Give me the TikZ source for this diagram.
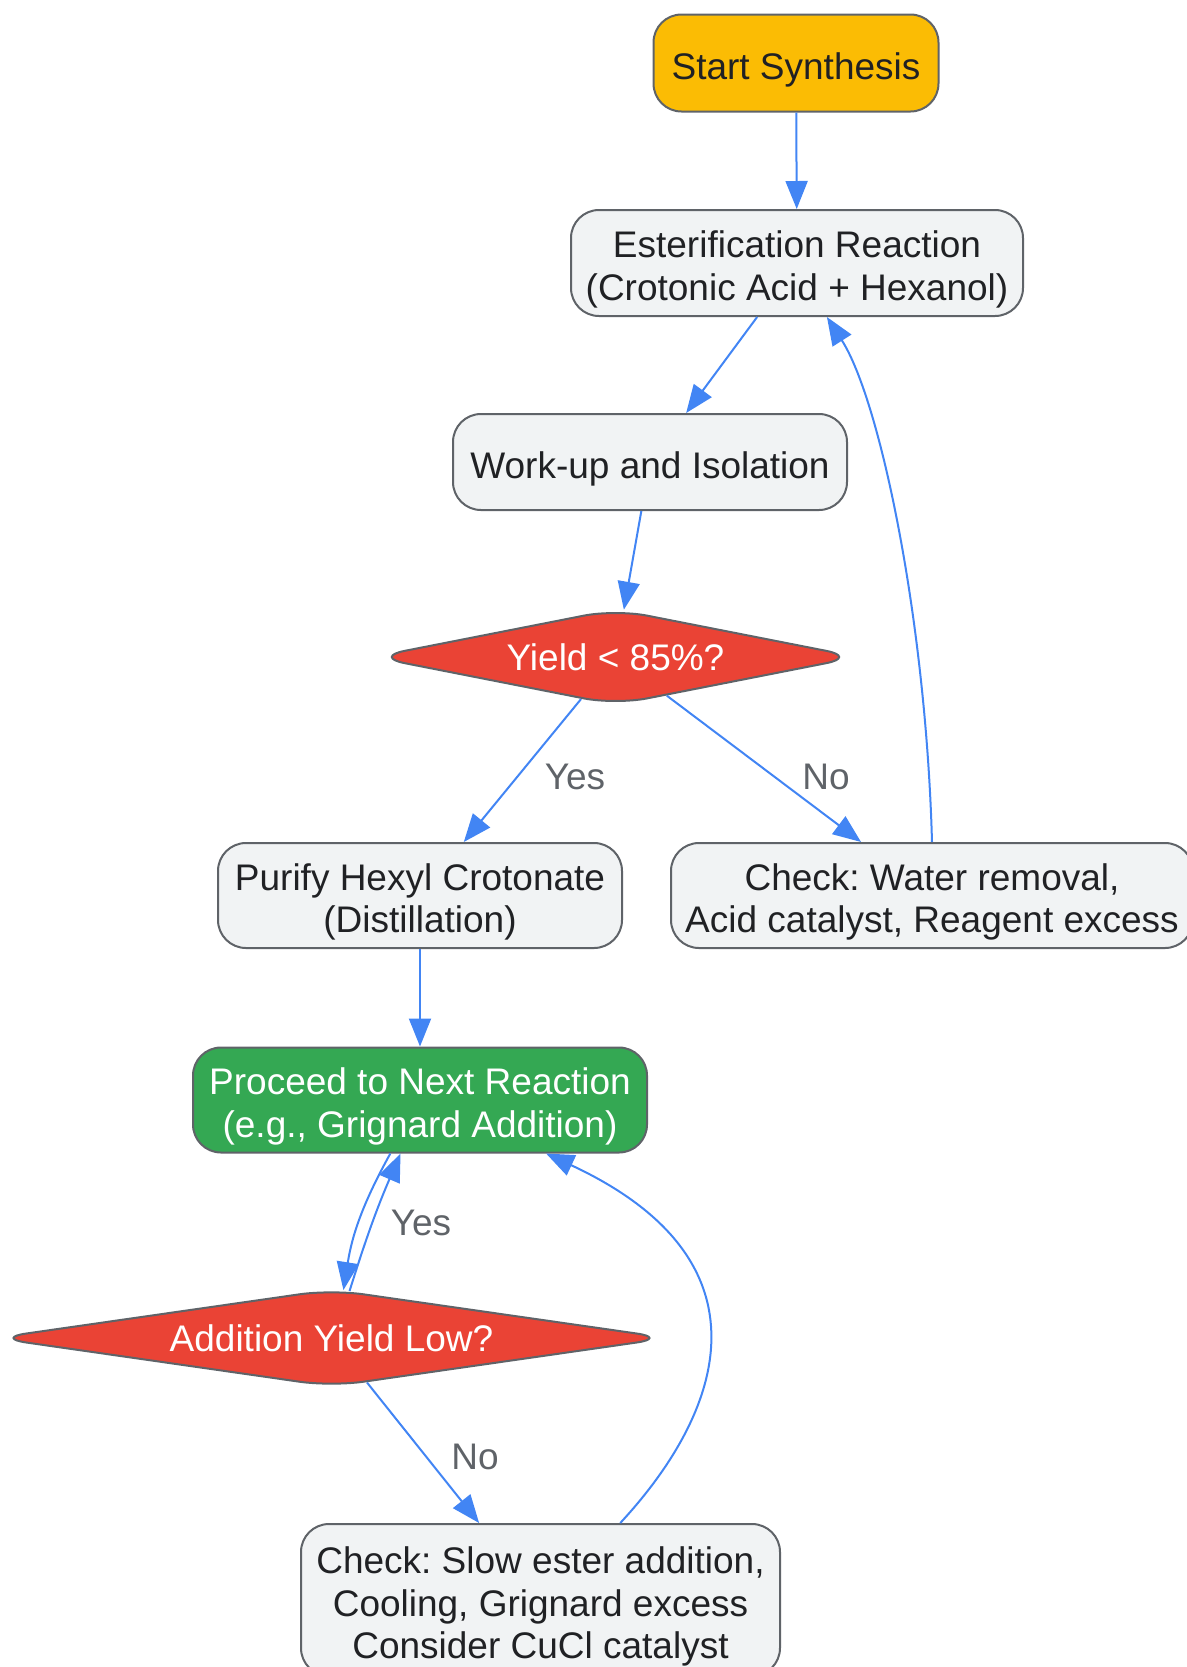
\documentclass[tikz,border=0pt]{standalone}
\usepackage{fontspec}
\setmainfont{Liberation Sans}
\setsansfont{Liberation Sans}
\usepackage{tikz}
\usetikzlibrary{arrows.meta}
\usetikzlibrary{shapes.geometric}
\definecolor{rahmen}{HTML}{5F6368}
\definecolor{hellgrau}{HTML}{F1F3F4}
\definecolor{schrift}{HTML}{202124}
\definecolor{gelb}{HTML}{FBBC04}
\definecolor{rot}{HTML}{EA4335}
\definecolor{gruen}{HTML}{34A853}
\definecolor{blau}{HTML}{4285F4}
\newcommand{\oben}{\rule{0pt}{20pt}}
\tikzset{
	>={Triangle[length=14pt,width=11pt]},
	schritt/.style={
		rectangle, 
		rounded corners=14pt, 
		fill=hellgrau,
		draw=rahmen, line width=1pt,
		text=schrift,
		align=center,
		inner sep=0pt},
	startbox/.style={schritt, fill=gelb},
	zielbox/.style={schritt, fill=gruen, text=white},
	frage/.style={
		diamond,
		aspect=6,
		rounded corners=16pt,
		fill=rot,
		draw=rahmen, line width=1pt,
		text=white,
		inner sep=0pt},
	line/.style={draw=blau, line width=1pt, ->},
	etikett/.style={text=rahmen},
}
\begin{document}
\frenchspacing
\begin{tikzpicture}
			[x=0.5pt, y=-0.5pt,
			font=\sffamily\fontsize{18.5}{21.25}\selectfont]
			
			\clip (0,0) rectangle (1187,1667);
			
			\node[startbox, minimum width=142.5pt, minimum height=48.5pt] (eins) at (796,63) {\oben Start Synthesis};
			\node[schritt, minimum width=226pt, minimum height=53pt] (zwei) at (797,263) {\oben Esterification Reaction\\(Crotonic Acid + Hexanol)};
			\node[schritt, minimum width=197pt, minimum height=48pt] (drei) at (650,462) {\oben Work-up and Isolation};
			\node[frage, minimum width=242.5pt, minimum height=48pt] (vier) at (615.5,657) {Yield < 85\%?};
			\node[schritt, minimum width=202pt, minimum height=52.5pt] (fuenf) at (420,895.5) {\oben Purify Hexyl Crotonate\\(Distillation)};
			\node[schritt, minimum width=261pt, minimum height=52.5pt] (sechs) at (932,895.5) {\oben Check: Water removal,\\Acid catalyst, Reagent excess};
			\node[zielbox, minimum width=227pt, minimum height=52.5pt] (sieben) at (420,1100) {\oben Proceed to Next Reaction\\(e.g., Grignard Addition)};
			\node[frage, minimum width=337pt, minimum height=48.7pt] (acht) at (331.5,1338) {Addition Yield Low?};
			\node[schritt, minimum width=239.5pt, minimum height=76pt] (neun) at (540.5,1600) {\oben Check: Slow ester addition,\\Cooling, Grignard excess\\Consider CuCl catalyst};
			
			% Beschriftungen
			\node[etikett] (ja1) at (575,777) {Yes};
			\node[etikett] (nein1) at (826,777) {No};
			\node[etikett] (ja2) at (421,1223) {Yes};
			\node[etikett] (nein2) at (475,1457) {No};
			
			\draw[line] (eins) -- (zwei);
			\draw[line] (zwei) -- (drei);
			\draw[line] (drei) -- (vier);
			\draw[line] (vier) -- (fuenf);
			\draw[line] (vier) -- (sechs);
			\draw[line] (sechs.north) .. controls (926,620) and (880,400) .. (zwei.299.7);
			\draw[line] (fuenf) -- (sieben);
			\draw[line] (sieben.241.3) to[bend right=10] (acht.76.8);
			\draw[line] (acht.69.2) to[bend left=3] (sieben.250);
			\draw[line] (acht) -- (neun);
			\draw[line] (neun.44.4) .. controls (725,1410) and (775,1260) .. (sieben.337.4);
			
			\end{tikzpicture}
\end{document}
